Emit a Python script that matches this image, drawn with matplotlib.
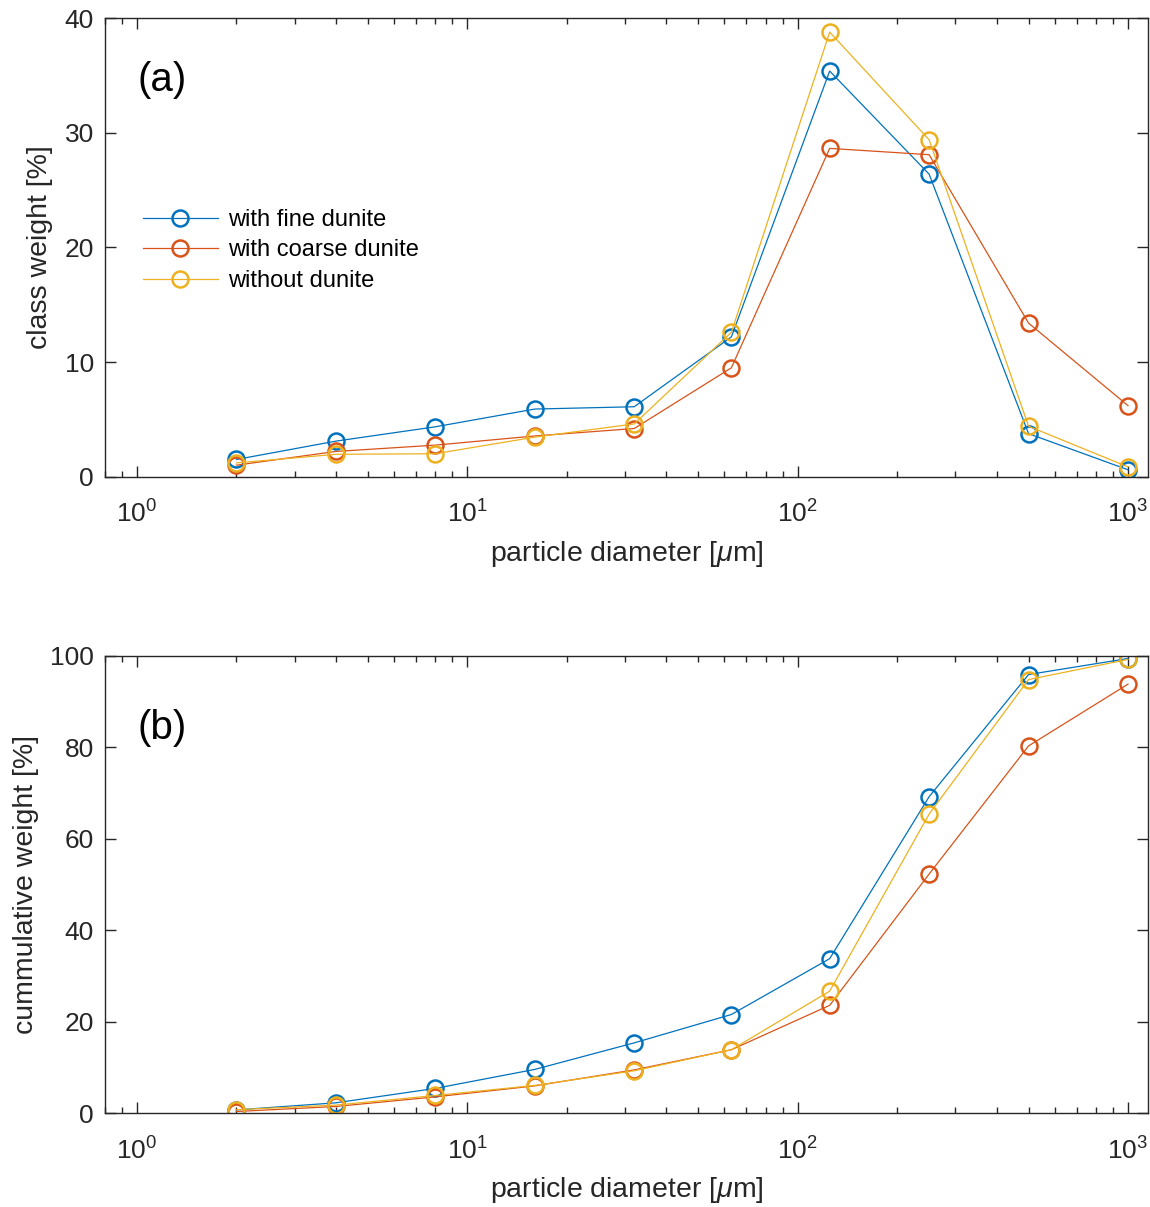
import matplotlib
matplotlib.use('Agg')
import matplotlib.pyplot as plt
from matplotlib.ticker import LogLocator, NullFormatter, MultipleLocator

plt.rcParams['font.family'] = ['Liberation Sans', 'DejaVu Sans']
plt.rcParams['mathtext.fontset'] = 'custom'
plt.rcParams['mathtext.rm'] = 'Liberation Sans'
plt.rcParams['mathtext.it'] = 'Liberation Sans:italic'

# grain size classes (upper bound of each class, in micrometres)
diam = [2, 4, 8, 16, 32, 63, 125, 250, 500, 1000]

# weight per class [%]
class_fine = [1.5, 3.1, 4.35, 5.9, 6.1, 12.2, 35.4, 26.4, 3.75, 0.6]
class_coarse = [1.0, 2.2, 2.75, 3.55, 4.2, 9.5, 28.65, 28.1, 13.4, 6.2]
class_none = [1.2, 1.95, 2.0, 3.45, 4.6, 12.6, 38.8, 29.4, 4.4, 0.85]

# cumulative weight [%]
cum_fine = [0.75, 2.3, 5.45, 9.6, 15.4, 21.6, 33.8, 69.2, 95.9, 99.4]
cum_coarse = [0.4, 1.5, 3.6, 6.0, 9.5, 13.9, 23.6, 52.3, 80.3, 93.8]
cum_none = [0.8, 1.8, 3.9, 6.1, 9.3, 13.9, 26.7, 65.4, 94.8, 99.2]

labels = ['with fine dunite', 'with coarse dunite', 'without dunite']
colors = ['#0072BD', '#D95319', '#EDB120']
axcol = '#262626'

fig = plt.figure(figsize=(11.5, 12.07), dpi=100)
ax1 = fig.add_axes([0.0913, 0.6051, 0.907, 0.3797])
ax2 = fig.add_axes([0.0913, 0.0776, 0.907, 0.3791])


def style(ax, ymax, ystep):
    ax.set_xscale('log')
    ax.set_xlim(0.8, 1150)
    ax.set_ylim(0, ymax)
    ax.yaxis.set_major_locator(MultipleLocator(ystep))
    ax.xaxis.set_major_locator(LogLocator(base=10, numticks=10))
    ax.xaxis.set_minor_locator(LogLocator(base=10, subs=range(2, 10), numticks=20))
    ax.xaxis.set_minor_formatter(NullFormatter())
    ax.tick_params(which='both', direction='in', top=True, right=True,
                   colors=axcol, labelsize=19, width=1.0)
    ax.tick_params(which='major', length=8, pad=8)
    ax.tick_params(axis='x', which='major', pad=17)
    ax.tick_params(which='minor', length=4.3)
    for s in ax.spines.values():
        s.set_color(axcol)
        s.set_linewidth(1.0)
    ax.set_xlabel(r'particle diameter [$\mu$m]', fontsize=20.5, color=axcol, labelpad=8)


for ys, c, lab in zip([class_fine, class_coarse, class_none], colors, labels):
    ax1.plot(diam, ys, '-o', color=c, lw=0.9, mfc='none', mec=c, ms=11.5, mew=1.8, label=lab)
for ys, c in zip([cum_fine, cum_coarse, cum_none], colors):
    ax2.plot(diam, ys, '-o', color=c, lw=0.9, mfc='none', mec=c, ms=11.5, mew=1.8)

style(ax1, 40, 10)
style(ax2, 100, 20)
ax1.set_ylabel('class weight [%]', fontsize=20.5, color=axcol, labelpad=8)
ax2.set_ylabel('cummulative weight [%]', fontsize=20.5, color=axcol, labelpad=8)

ax1.text(1.0, 34.6, '(a)', fontsize=29, va='center', ha='left')
ax2.text(1.0, 84.2, '(b)', fontsize=29, va='center', ha='left')

ax1.legend(loc='upper left', bbox_to_anchor=(0.036, 0.584), frameon=False,
           fontsize=17, handlelength=3.2, handletextpad=0.4, labelspacing=0.36,
           borderpad=0, borderaxespad=0, numpoints=1)

fig.savefig('out.png', dpi=100)
